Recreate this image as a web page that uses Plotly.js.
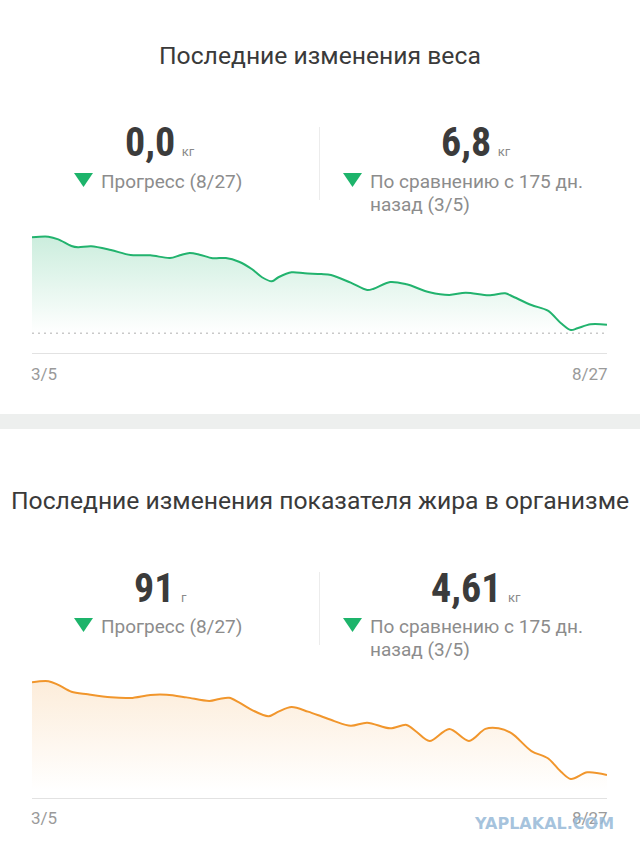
<!DOCTYPE html>
<html><head><meta charset="utf-8">
<script src="https://cdn.plot.ly/plotly-3.0.1.min.js"></script>
<style>html,body{margin:0;padding:0;background:#fff;}#chart{width:640px;height:854px;}</style>
</head><body><div id="chart"></div>
<script>
// ---- data ----
const weightDates = ['2019-03-05','2019-03-10','2019-03-13','2019-03-17','2019-03-19','2019-03-23','2019-03-29',
  '2019-04-04','2019-04-10','2019-04-16','2019-04-19','2019-04-22','2019-04-25','2019-04-29',
  '2019-05-03','2019-05-07','2019-05-11','2019-05-14','2019-05-17','2019-05-19','2019-05-23','2019-05-27',
  '2019-06-01','2019-06-04','2019-06-10','2019-06-15','2019-06-17','2019-06-22','2019-06-27',
  '2019-07-04','2019-07-10','2019-07-15','2019-07-22','2019-07-27','2019-07-29',
  '2019-08-04','2019-08-09','2019-08-13','2019-08-16','2019-08-18','2019-08-22','2019-08-27'];
const weightValues = [88.00,88.05,87.84,87.32,87.22,87.30,87.01,
  86.62,86.60,86.39,86.60,86.78,86.65,86.37,
  86.39,86.10,85.51,84.89,84.58,84.89,85.28,85.20,
  85.14,85.07,84.47,83.90,84.00,84.52,84.34,
  83.72,83.51,83.69,83.49,83.64,83.43,
  82.73,82.29,81.31,80.78,80.92,81.23,81.20];
const weightGoal = 80.53;

const fatDates = ['2019-03-05','2019-03-10','2019-03-13','2019-03-17','2019-03-22','2019-03-29',
  '2019-04-04','2019-04-10','2019-04-15','2019-04-21','2019-04-28',
  '2019-05-01','2019-05-04','2019-05-07','2019-05-11','2019-05-16','2019-05-19','2019-05-23','2019-05-28',
  '2019-06-01','2019-06-05','2019-06-10','2019-06-15','2019-06-22','2019-06-27','2019-06-30',
  '2019-07-04','2019-07-10','2019-07-16','2019-07-21','2019-07-25','2019-07-29',
  '2019-08-04','2019-08-09','2019-08-13','2019-08-16','2019-08-21','2019-08-27'];
const fatValues = [30.00,30.05,29.87,29.53,29.40,29.25,
  29.22,29.37,29.38,29.25,29.07,
  29.17,29.23,29.00,28.62,28.31,28.54,28.77,28.54,
  28.31,28.07,27.84,27.99,27.71,27.88,27.54,
  27.08,27.68,27.08,27.68,27.71,27.46,
  26.58,26.22,25.55,25.19,25.52,25.39];

const tickDates = ['2019-03-05','2019-08-27'];
const tickLabels = ['3/5','8/27'];

const weightTitle = 'Последние изменения веса';
const fatTitle = 'Последние изменения показателя жира в организме';
const weightStats = [{value:'0,0', unit:'кг', lines:['Прогресс (8/27)']},
                     {value:'6,8', unit:'кг', lines:['По сравнению с 175 дн.','назад (3/5)']}];
const fatStats = [{value:'91', unit:'г', lines:['Прогресс (8/27)']},
                  {value:'4,61', unit:'кг', lines:['По сравнению с 175 дн.','назад (3/5)']}];

// ---- layout helpers ----
const W = 640, H = 854;
const px = x => x / W;
const py = y => 1 - y / H;

const GREEN = '#22b36e', ORANGE = '#f1962c';
const FONT = 'Roboto, "Noto Sans", sans-serif';
const NUMFONT = '"Liberation Sans Narrow", "Roboto Condensed", Roboto, sans-serif';

const traces = [
  {x: weightDates, y: weightDates.map(() => weightGoal), xaxis:'x', yaxis:'y', mode:'lines',
   line:{width:0, color:'rgba(0,0,0,0)'}, hoverinfo:'skip', showlegend:false},
  {x: weightDates, y: weightValues, xaxis:'x', yaxis:'y', mode:'lines',
   line:{color:GREEN, width:2, shape:'spline', smoothing:0.9}, fill:'tonexty',
   fillgradient:{type:'vertical', start:weightGoal, stop:88.3,
     colorscale:[[0,'rgba(34,179,110,0)'],[1,'rgba(34,179,110,0.24)']]},
   showlegend:false},
  {x: fatDates, y: fatDates.map(() => 24.6), xaxis:'x2', yaxis:'y2', mode:'lines',
   line:{width:0, color:'rgba(0,0,0,0)'}, hoverinfo:'skip', showlegend:false},
  {x: fatDates, y: fatValues, xaxis:'x2', yaxis:'y2', mode:'lines',
   line:{color:ORANGE, width:2, shape:'spline', smoothing:0.9}, fill:'tonexty',
   fillgradient:{type:'vertical', start:24.6, stop:30.2,
     colorscale:[[0,'rgba(241,150,44,0)'],[1,'rgba(241,150,44,0.18)']]},
   showlegend:false}
];

const xCommon = {type:'date', range:[tickDates[0], tickDates[1]], showgrid:false, zeroline:false,
  showticklabels:false, ticks:'', showline:true, linecolor:'#e2e2e2', linewidth:1, fixedrange:true};

const layout = {
  width: W, height: H, margin:{l:0,r:0,t:0,b:0}, paper_bgcolor:'#ffffff', plot_bgcolor:'rgba(0,0,0,0)',
  showlegend:false, font:{family:FONT},
  xaxis: Object.assign({}, xCommon, {domain:[px(32), px(607)], anchor:'y'}),
  yaxis: {domain:[py(353), py(230)], range:[78.996, 88.568], visible:false, fixedrange:true},
  xaxis2: Object.assign({}, xCommon, {domain:[px(32), px(607)], anchor:'y2'}),
  yaxis2: {domain:[py(798.3), py(675)], range:[24.229, 30.363], visible:false, fixedrange:true},
  shapes: [], annotations: []
};

// separator band
layout.shapes.push({type:'rect', xref:'paper', yref:'paper', x0:0, x1:1, y0:py(429), y1:py(414),
  fillcolor:'#edefee', line:{width:0}, layer:'below'});
// goal dotted line
layout.shapes.push({type:'line', xref:'x', yref:'y', x0:tickDates[0], x1:tickDates[1], y0:weightGoal, y1:weightGoal,
  line:{color:'#c9c9c9', width:1.5, dash:'2px,4px'}});

function section(offset, title, titleY, stats) {
  layout.annotations.push({xref:'paper', yref:'paper', x:0.5, y:py(titleY), xanchor:'center', yanchor:'middle',
    text:title, showarrow:false, font:{family:FONT, size:24.7, color:'#3a3a3a'}});
  // vertical separator
  layout.shapes.push({type:'line', xref:'paper', yref:'paper', x0:px(319.5), x1:px(319.5),
    y0:py(127+offset), y1:py(200+offset), line:{color:'#ececec', width:1}});
  const cols = [{center:160, tri:74, txt:99}, {center:476, tri:343, txt:368}];
  stats.forEach((s, i) => {
    const c = cols[i];
    layout.annotations.push({xref:'paper', yref:'paper', x:px(c.center), y:py(143+offset), xanchor:'center', yanchor:'middle',
      text:'<b>'+s.value+'</b><span style="font-size:13px;font-family:Roboto;color:#8a8a8a">&nbsp;&nbsp;'+s.unit+'</span>',
      showarrow:false, font:{family:NUMFONT, size:40, color:'#3b3b3b'}});
    layout.shapes.push({type:'path', xref:'paper', yref:'paper',
      path:`M ${px(c.tri)},${py(173+offset)} L ${px(c.tri+19)},${py(173+offset)} L ${px(c.tri+9.5)},${py(187+offset)} Z`,
      fillcolor:'#1db46b', line:{width:0}});
    s.lines.forEach((ln, k) => {
      layout.annotations.push({xref:'paper', yref:'paper', x:px(c.txt), y:py(181+offset+23*k), xanchor:'left', yanchor:'middle',
        text:ln, showarrow:false, font:{family:FONT, size:19, color:'#8c8c8c'}});
    });
  });
}
section(0, weightTitle, 56, weightStats);
section(445, fatTitle, 500, fatStats);

// tick labels
[['x',374],['x2',818]].forEach(([xr, y]) => {
  tickDates.forEach((d, i) => {
    layout.annotations.push({xref:xr, yref:'paper', x:d, y:py(y), xanchor: i === 0 ? 'left' : 'right', yanchor:'middle',
      xshift: i === 0 ? -3 : 3,
      text:tickLabels[i], showarrow:false, font:{family:FONT, size:17, color:'#9a9a9a'}});
  });
});

// watermark
layout.annotations.push({xref:'paper', yref:'paper', x:px(616), y:py(823), xanchor:'right', yanchor:'middle',
  text:'<b>YAPLAKAL.COM</b>', showarrow:false, font:{family:'"DejaVu Sans", sans-serif', size:16, color:'rgba(150,185,215,0.85)'}});

Plotly.newPlot('chart', traces, layout, {staticPlot:true, displayModeBar:false});
</script></body></html>
